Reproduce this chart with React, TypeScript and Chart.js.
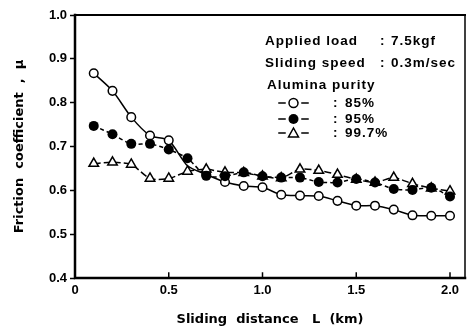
import React, { useEffect, useRef } from "react";
import { Chart, registerables } from "chart.js";

Chart.register(...registerables);

const distances = [0.1, 0.2, 0.3, 0.4, 0.5, 0.6, 0.7, 0.8, 0.9, 1.0, 1.1, 1.2, 1.3, 1.4, 1.5, 1.6, 1.7, 1.8, 1.9, 2.0];
const purity85 = [0.867, 0.827, 0.767, 0.725, 0.714, 0.656, 0.636, 0.619, 0.610, 0.607, 0.590, 0.588, 0.587, 0.576, 0.565, 0.565, 0.556, 0.543, 0.542, 0.542];
const purity95 = [0.747, 0.728, 0.706, 0.706, 0.693, 0.673, 0.633, 0.632, 0.641, 0.632, 0.629, 0.629, 0.619, 0.618, 0.626, 0.618, 0.603, 0.601, 0.606, 0.586];
const purity997 = [0.661, 0.664, 0.659, 0.627, 0.627, 0.643, 0.648, 0.641, 0.640, 0.632, 0.628, 0.648, 0.645, 0.636, 0.625, 0.618, 0.629, 0.615, 0.605, 0.598];
const hidden85 = [5];

const xTickValues = [0, 0.5, 1.0, 1.5, 2.0];
const xTickLabels = ["0", "0.5", "1.0", "1.5", "2.0"];
const yTickValues = [0.4, 0.5, 0.6, 0.7, 0.8, 0.9, 1.0];
const yTickLabels = ["0.4", "0.5", "0.6", "0.7", "0.8", "0.9", "1.0"];

const xTitle = "Sliding  distance   L  (km)";
const yTitle = "Friction  coefficient  ,  μ";
const infoLines = [
  ["Applied load", ":", "7.5kgf"],
  ["Sliding speed", ":", "0.3m/sec"],
];
const infoHeading = "Alumina purity";
const seriesLabels = ["85%", "95%", "99.7%"];

const LEGEND_FONT = "bold 13.5px 'Liberation Sans'";

const overlayPlugin = {
  id: "overlay",
  afterDatasetsDraw(chart: any) {
    const { ctx, chartArea } = chart;
    const { left, right, top, bottom } = chartArea;
    const xs = chart.scales.x;
    ctx.save();
    ctx.strokeStyle = "#000";
    ctx.lineCap = "square";
    // box
    ctx.lineWidth = 2;
    ctx.beginPath();
    ctx.moveTo(left, top);
    ctx.lineTo(right, top);
    ctx.stroke();
    ctx.lineWidth = 1.5;
    ctx.beginPath();
    ctx.moveTo(right, top);
    ctx.lineTo(right, bottom);
    ctx.stroke();
    ctx.lineWidth = 2.5;
    ctx.beginPath();
    ctx.moveTo(left, top);
    ctx.lineTo(left, bottom);
    ctx.lineTo(right, bottom);
    ctx.stroke();
    // inward x ticks
    ctx.lineWidth = 1.5;
    xTickValues.forEach((v) => {
      if (v === 0) return;
      const px = xs.getPixelForValue(v);
      ctx.beginPath();
      ctx.moveTo(px, bottom);
      ctx.lineTo(px, bottom - 5);
      ctx.stroke();
    });
    // info text
    ctx.fillStyle = "#000";
    ctx.font = LEGEND_FONT;
    (ctx as any).letterSpacing = "1px";
    ctx.textBaseline = "middle";
    ctx.textAlign = "left";
    const rows = [41, 63];
    infoLines.forEach((row, i) => {
      ctx.fillText(row[0], 265, rows[i]);
      ctx.fillText(row[1], 380, rows[i]);
      ctx.fillText(row[2], 391, rows[i]);
    });
    ctx.fillText(infoHeading, 267, 85);
    const legendY = [103, 119, 133];
    legendY.forEach((y, i) => {
      ctx.lineWidth = 1.5;
      ctx.beginPath();
      ctx.moveTo(279, y);
      ctx.lineTo(285, y);
      ctx.moveTo(302, y);
      ctx.lineTo(308, y);
      ctx.stroke();
      ctx.beginPath();
      if (i === 0) {
        ctx.arc(293.5, y, 4.5, 0, Math.PI * 2);
        ctx.fillStyle = "#fff";
        ctx.fill();
        ctx.stroke();
      } else if (i === 1) {
        ctx.arc(293.5, y, 5, 0, Math.PI * 2);
        ctx.fillStyle = "#000";
        ctx.fill();
      } else {
        ctx.moveTo(293.5, y - 5);
        ctx.lineTo(298.5, y + 4);
        ctx.lineTo(288.5, y + 4);
        ctx.closePath();
        ctx.fillStyle = "#fff";
        ctx.fill();
        ctx.stroke();
      }
      ctx.fillStyle = "#000";
      ctx.fillText(":", 333, y);
      ctx.fillText(seriesLabels[i], 345, y);
    });
    ctx.restore();
  },
};

export default function App() {
  const ref = useRef<HTMLCanvasElement | null>(null);
  useEffect(() => {
    if (!ref.current) return;
    const toPoints = (arr: number[]) => arr.map((y, i) => ({ x: distances[i], y }));
    const chart = new Chart(ref.current, {
      type: "line",
      data: {
        datasets: [
          {
            label: seriesLabels[1],
            data: toPoints(purity95),
            borderColor: "#000",
            backgroundColor: "#000",
            borderWidth: 1.5,
            borderDash: [4, 3],
            pointStyle: "circle",
            pointRadius: 5,
            pointBorderWidth: 0,
            pointBackgroundColor: "#000",
            tension: 0.25,
            order: 0,
          },
          {
            label: seriesLabels[2],
            data: toPoints(purity997),
            borderColor: "#000",
            borderWidth: 1.5,
            borderDash: [7, 3],
            pointStyle: "triangle",
            pointRadius: 5.5,
            pointBorderWidth: 1.5,
            pointBorderColor: "#000",
            pointBackgroundColor: "#fff",
            tension: 0.25,
            order: 1,
          },
          {
            label: seriesLabels[0],
            data: toPoints(purity85),
            borderColor: "#000",
            borderWidth: 1.5,
            pointStyle: "circle",
            pointRadius: purity85.map((_, i) => (hidden85.includes(i) ? 0 : 4.3)),
            pointBorderWidth: 1.5,
            pointBorderColor: "#000",
            pointBackgroundColor: "#fff",
            tension: 0.25,
            order: 2,
          },
        ],
      },
      options: {
        animation: false,
        responsive: false,
        layout: { padding: { top: 15, right: 3, left: 0, bottom: 0 } },
        plugins: { legend: { display: false }, tooltip: { enabled: false } },
        scales: {
          x: {
            type: "linear",
            min: 0,
            max: 2.08,
            afterBuildTicks: (s: any) => {
              s.ticks = xTickValues.map((v) => ({ value: v }));
            },
            afterFit: (s: any) => {
              s.height = 56;
            },
            ticks: {
              callback: (v: any) => xTickLabels[xTickValues.indexOf(Number(v))] ?? "",
              font: { family: "'Liberation Sans'", size: 13, weight: "bold" },
              color: "#000",
              padding: 5,
              maxRotation: 0,
            },
            grid: { display: true, drawOnChartArea: false, drawTicks: false, color: "#000" },
            border: { display: false },
            title: {
              display: true,
              text: xTitle,
              font: { family: "'DejaVu Sans'", size: 13, weight: "bold" },
              color: "#000",
              padding: { top: 0, bottom: 7 },
            },
          },
          y: {
            type: "linear",
            min: 0.4,
            max: 1.0,
            afterBuildTicks: (s: any) => {
              s.ticks = yTickValues.map((v) => ({ value: v }));
            },
            afterFit: (s: any) => {
              s.width = 75;
            },
            ticks: {
              callback: (v: any) => {
                const idx = yTickValues.findIndex((t) => Math.abs(t - Number(v)) < 1e-6);
                return idx >= 0 ? yTickLabels[idx] : "";
              },
              font: { family: "'Liberation Sans'", size: 13, weight: "bold" },
              color: "#000",
              padding: 3,
            },
            grid: { display: true, drawOnChartArea: false, drawTicks: true, tickLength: 5, tickWidth: 1.5, color: "#000" },
            border: { display: false },
            title: {
              display: true,
              text: yTitle,
              font: { family: "'DejaVu Sans'", size: 13, weight: "bold" },
              color: "#000",
              padding: { top: 12, bottom: 0 },
            },
          },
        },
      },
      plugins: [overlayPlugin],
    } as any);
    return () => chart.destroy();
  }, []);
  return (
    <div style={{ position: "fixed", left: 0, top: 0, width: 472, height: 334, background: "#fff" }}>
      <canvas ref={ref} width={472} height={334} style={{ width: 472, height: 334 }} />
    </div>
  );
}
